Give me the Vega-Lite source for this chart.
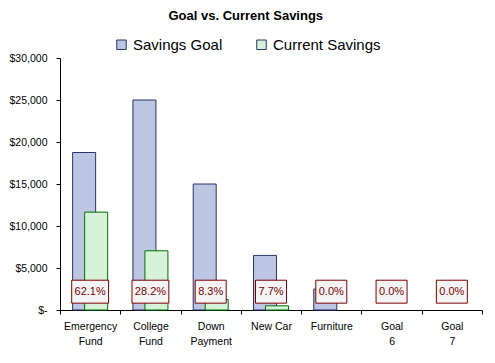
{
  "$schema": "https://vega.github.io/schema/vega-lite/v6.json",
  "autosize": {"type": "none"},
  "width": 422,
  "height": 252,
  "padding": {"left": 60, "top": 58, "right": 13, "bottom": 53},
  "background": "white",
  "config": {
    "view": {"stroke": null},
    "font": "Liberation Sans"
  },
  "title": {
    "text": "Goal vs. Current Savings",
    "font": "Liberation Sans",
    "fontSize": 13,
    "fontWeight": "bold",
    "color": "black",
    "anchor": "middle",
    "frame": "bounds",
    "offset": 14
  },
  "datasets": {
    "savings": [
      {"category": "Emergency Fund", "series": "Savings Goal", "amount": 18750},
      {"category": "Emergency Fund", "series": "Current Savings", "amount": 11650},
      {"category": "College Fund", "series": "Savings Goal", "amount": 25000},
      {"category": "College Fund", "series": "Current Savings", "amount": 7050},
      {"category": "Down Payment", "series": "Savings Goal", "amount": 15000},
      {"category": "Down Payment", "series": "Current Savings", "amount": 1245},
      {"category": "New Car", "series": "Savings Goal", "amount": 6500},
      {"category": "New Car", "series": "Current Savings", "amount": 500},
      {"category": "Furniture", "series": "Savings Goal", "amount": 2500},
      {"category": "Furniture", "series": "Current Savings", "amount": 0},
      {"category": "Goal 6", "series": "Savings Goal", "amount": 0},
      {"category": "Goal 6", "series": "Current Savings", "amount": 0},
      {"category": "Goal 7", "series": "Savings Goal", "amount": 0},
      {"category": "Goal 7", "series": "Current Savings", "amount": 0}
    ],
    "labels": [
      {"category": "Emergency Fund", "pct": "62.1%"},
      {"category": "College Fund", "pct": "28.2%"},
      {"category": "Down Payment", "pct": "8.3%"},
      {"category": "New Car", "pct": "7.7%"},
      {"category": "Furniture", "pct": "0.0%"},
      {"category": "Goal 6", "pct": "0.0%"},
      {"category": "Goal 7", "pct": "0.0%"}
    ]
  },
  "encoding": {
    "x": {
      "field": "category",
      "type": "nominal",
      "sort": ["Emergency Fund", "College Fund", "Down Payment", "New Car", "Furniture", "Goal 6", "Goal 7"],
      "scale": {"domain": ["Emergency Fund", "College Fund", "Down Payment", "New Car", "Furniture", "Goal 6", "Goal 7"], "paddingInner": 0, "paddingOuter": 0},
      "axis": {
        "title": null,
        "labelAngle": 0,
        "labelFont": "Liberation Sans",
        "labelFontSize": 10.5,
        "labelColor": "black",
        "labelLineHeight": 15,
        "labelPadding": 7,
        "labelExpr": "datum.label == 'New Car' || datum.label == 'Furniture' ? datum.label : split(datum.label, ' ')",
        "tickBand": "extent",
        "tickSize": 4,
        "tickColor": "black",
        "domainColor": "black",
        "ticks": true,
        "grid": false
      }
    }
  },
  "layer": [
    {
      "data": {"name": "savings"},
      "transform": [{"filter": "datum.series == 'Savings Goal' && datum.amount > 0"}],
      "mark": {"type": "bar", "width": 23, "xOffset": -6, "stroke": "#2a3366", "strokeWidth": 1},
      "encoding": {
        "y": {
          "field": "amount",
          "type": "quantitative",
          "scale": {"domain": [0, 30000], "nice": false},
          "axis": {
            "title": null,
            "values": [0, 5000, 10000, 15000, 20000, 25000, 30000],
            "labelExpr": "datum.value == 0 ? '$-' : format(datum.value, '$,')",
            "labelFont": "Liberation Sans",
            "labelFontSize": 10.5,
            "labelColor": "black",
            "labelPadding": 9,
            "tickSize": 4,
            "tickColor": "black",
            "domainColor": "black",
            "grid": false
          }
        },
        "color": {
          "field": "series",
          "type": "nominal",
          "sort": ["Savings Goal", "Current Savings"],
          "scale": {"domain": ["Savings Goal", "Current Savings"], "range": ["#bcc5e2", "#d6f3da"]},
          "legend": {
            "title": null,
            "orient": "none",
            "direction": "horizontal",
            "legendX": 54,
            "legendY": -21,
            "symbolType": "square",
            "symbolSize": 90,
            "symbolStrokeWidth": 1,
            "labelFont": "Liberation Sans",
            "labelFontSize": 15,
            "labelColor": "black",
            "labelOffset": 4,
            "columnPadding": 31
          }
        }
      }
    },
    {
      "data": {"name": "savings"},
      "transform": [{"filter": "datum.series == 'Current Savings' && datum.amount > 0"}],
      "mark": {"type": "bar", "width": 23, "xOffset": 6, "stroke": "#007000", "strokeWidth": 1},
      "encoding": {
        "y": {"field": "amount", "type": "quantitative"},
        "color": {"field": "series", "type": "nominal"}
      }
    },
    {
      "data": {"name": "labels"},
      "mark": {"type": "point", "filled": true, "fill": "#f4f4f4", "stroke": "#7a0000", "strokeWidth": 1, "opacity": 1, "size": 961},
      "encoding": {
        "y": {"datum": 2180, "type": "quantitative"},
        "shape": {
          "condition": {"test": "length(datum.pct) > 4", "value": "M-1.19,-0.74H1.19V0.74H-1.19Z"},
          "value": "M-1,-0.74H1V0.74H-1Z"
        }
      }
    },
    {
      "data": {"name": "labels"},
      "mark": {"type": "text", "font": "Liberation Sans", "fontSize": 11, "color": "#7a0000", "baseline": "middle", "align": "center", "dy": 0},
      "encoding": {
        "y": {"datum": 2180, "type": "quantitative"},
        "text": {"field": "pct", "type": "nominal"}
      }
    }
  ]
}
